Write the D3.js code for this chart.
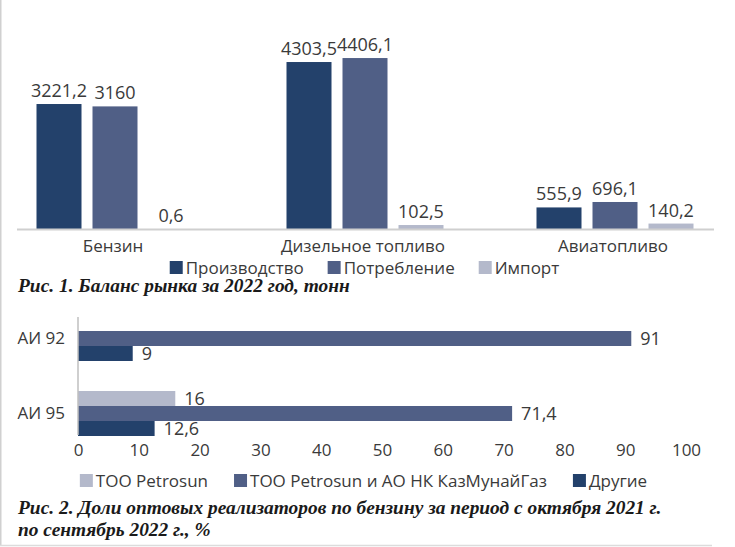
<!DOCTYPE html>
<html><head><meta charset="utf-8">
<script src="https://cdn.jsdelivr.net/npm/d3@7"></script>
<style>
html,body{margin:0;padding:0;background:#fff;}
svg{display:block;}
</style></head>
<body>
<svg id="c" width="735" height="547"></svg>
<script>
// ---- Chart 1 data ----
const categories1 = ["Бензин", "Дизельное топливо", "Авиатопливо"];
const series1 = ["Производство", "Потребление", "Импорт"];
const production = [3221.2, 4303.5, 555.9];
const consumption = [3160, 4406.1, 696.1];
const imports = [0.6, 102.5, 140.2];
const labels1 = [["3221,2", "4303,5", "555,9"], ["3160", "4406,1", "696,1"], ["0,6", "102,5", "140,2"]];
const title1 = "Рис. 1. Баланс рынка за 2022 год, тонн";

// ---- Chart 2 data ----
const categories2 = ["АИ 92", "АИ 95"];
const series2 = ["ТОО Petrosun", "ТОО Petrosun и АО НК КазМунайГаз", "Другие"];
const petrosun = [null, 16];
const petrosunKmg = [91, 71.4];
const others = [9, 12.6];
const labels2 = [[null, "16"], ["91", "71,4"], ["9", "12,6"]];
const ticks2 = [0, 10, 20, 30, 40, 50, 60, 70, 80, 90, 100];
const title2a = "Рис. 2. Доли оптовых реализаторов по бензину за период с октября 2021 г.";
const title2b = "по сентябрь 2022 г., %";

const colors = ["#23416b", "#505f86", "#b4b9cb"];
const colors2 = ["#b4b9cb", "#505f86", "#23416b"];
const SANS = "'Open Sans', sans-serif";
const SERIF = "'Liberation Serif', 'Times New Roman', serif";
const TXT = "#3a3a3a";

const svg = d3.select("#c");

// frame lines
svg.append("line").attr("x1", 0.75).attr("x2", 0.75).attr("y1", 0).attr("y2", 545).attr("stroke", "#d0d0d0").attr("stroke-width", 1.5);
svg.append("line").attr("x1", 0).attr("x2", 712).attr("y1", 545.5).attr("y2", 545.5).attr("stroke", "#dcdcdc").attr("stroke-width", 1.5);

// ===== Chart 1 =====
const vals1 = [production, consumption, imports];
const x0 = d3.scaleBand().domain(categories1).range([-10, 740]).paddingInner(0.372).paddingOuter(0.186);
const x1 = d3.scaleBand().domain(series1).range([0, x0.bandwidth()]).paddingInner(11 / 56);
const y1 = d3.scaleLinear().domain([0, 5000]).range([229, 35]);

const g1 = svg.append("g");
series1.forEach((s, si) => {
  const gs = g1.append("g");
  gs.selectAll("rect").data(categories1).join("rect")
    .attr("x", (c) => x0(c) + x1(s))
    .attr("width", x1.bandwidth())
    .attr("y", (c, i) => y1(vals1[si][i]))
    .attr("height", (c, i) => y1(0) - y1(vals1[si][i]))
    .attr("fill", colors[si]);
  gs.selectAll("text").data(categories1).join("text")
    .attr("x", (c) => x0(c) + x1(s) + x1.bandwidth() / 2)
    .attr("y", (c, i) => y1(vals1[si][i]) - 7)
    .attr("text-anchor", "middle")
    .attr("font-family", SANS).attr("font-size", 18).attr("fill", TXT)
    .text((c, i) => labels1[si][i]);
});
// baseline
g1.append("line").attr("x1", 17).attr("x2", 714).attr("y1", y1(0) + 0.5).attr("y2", y1(0) + 0.5)
  .attr("stroke", "#cfcfcf").attr("stroke-width", 2);
// category labels
g1.selectAll("text.cat").data(categories1).join("text").attr("class", "cat")
  .attr("x", (c) => x0(c) + x0.bandwidth() / 2 - 2)
  .attr("y", 252)
  .attr("text-anchor", "middle")
  .attr("font-family", SANS).attr("font-size", 17).attr("fill", TXT)
  .text((c) => c);

function legend(items, cols, cx, baseline, gap) {
  const lg = svg.append("g");
  const parts = [];
  let x = 0;
  items.forEach((t, i) => {
    const sq = lg.append("rect").attr("width", 13).attr("height", 13).attr("fill", cols[i]).attr("y", baseline - 13);
    const tx = lg.append("text").attr("y", baseline).attr("font-family", SANS).attr("font-size", 17).attr("fill", TXT).text(t);
    const w = tx.node().getComputedTextLength();
    parts.push({ sq, tx, x });
    x += 16 + w + gap;
  });
  const total = x - gap;
  const start = cx - total / 2;
  parts.forEach((p) => {
    p.sq.attr("x", start + p.x);
    p.tx.attr("x", start + p.x + 16);
  });
}
legend(series1, colors, 364.5, 274, 24);

svg.append("text").attr("x", 18).attr("y", 292)
  .attr("font-family", SERIF).attr("font-weight", "bold").attr("font-style", "italic")
  .attr("font-size", 19.4).attr("fill", "#1a1a1a").text(title1);

// ===== Chart 2 =====
const vals2 = [petrosun, petrosunKmg, others];
const xs = d3.scaleLinear().domain([0, 100]).range([78, 686]);
const ys0 = d3.scaleBand().domain(categories2).range([316, 436]).paddingInner(0.4).paddingOuter(0);
const ys1 = d3.scaleBand().domain(series2).range([0, ys0.bandwidth()]);

const g2 = svg.append("g");
series2.forEach((s, si) => {
  const data = categories2.map((c, i) => ({ c, v: vals2[si][i], l: labels2[si][i] })).filter((d) => d.v != null);
  const gs = g2.append("g");
  gs.selectAll("rect").data(data).join("rect")
    .attr("x", xs(0))
    .attr("y", (d) => ys0(d.c) + ys1(s))
    .attr("height", ys1.bandwidth())
    .attr("width", (d) => xs(d.v) - xs(0))
    .attr("fill", colors2[si]);
  gs.selectAll("text").data(data).join("text")
    .attr("x", (d) => xs(d.v) + 9)
    .attr("y", (d) => ys0(d.c) + ys1(s) + ys1.bandwidth() / 2)
    .attr("dy", "0.35em")
    .attr("font-family", SANS).attr("font-size", 18).attr("fill", TXT)
    .text((d) => d.l);
});
// y axis
const yAxis = g2.append("g").attr("transform", `translate(${xs(0)},0)`)
  .call(d3.axisLeft(ys0).tickSize(0).tickPadding(13));
yAxis.select(".domain").attr("stroke", "#bfbfbf").attr("stroke-width", 1.5).attr("d", `M0,317V435`);
yAxis.selectAll("text").attr("font-family", SANS).attr("font-size", 17).attr("fill", TXT);
// x axis (labels only)
const xAxis = g2.append("g").attr("transform", `translate(0,444)`)
  .call(d3.axisBottom(xs).tickValues(ticks2).tickSize(0).tickPadding(0).tickFormat(d3.format("d")));
xAxis.select(".domain").remove();
xAxis.selectAll("text").attr("font-family", SANS).attr("font-size", 17).attr("fill", TXT).attr("dy", "0.71em");

legend(series2, colors2, 363.5, 487, 26);

svg.append("text").attr("x", 18).attr("y", 514)
  .attr("font-family", SERIF).attr("font-weight", "bold").attr("font-style", "italic")
  .attr("font-size", 19.4).attr("fill", "#1a1a1a").text(title2a);
svg.append("text").attr("x", 18).attr("y", 536)
  .attr("font-family", SERIF).attr("font-weight", "bold").attr("font-style", "italic")
  .attr("font-size", 19.4).attr("fill", "#1a1a1a").text(title2b);
</script>
</body></html>
